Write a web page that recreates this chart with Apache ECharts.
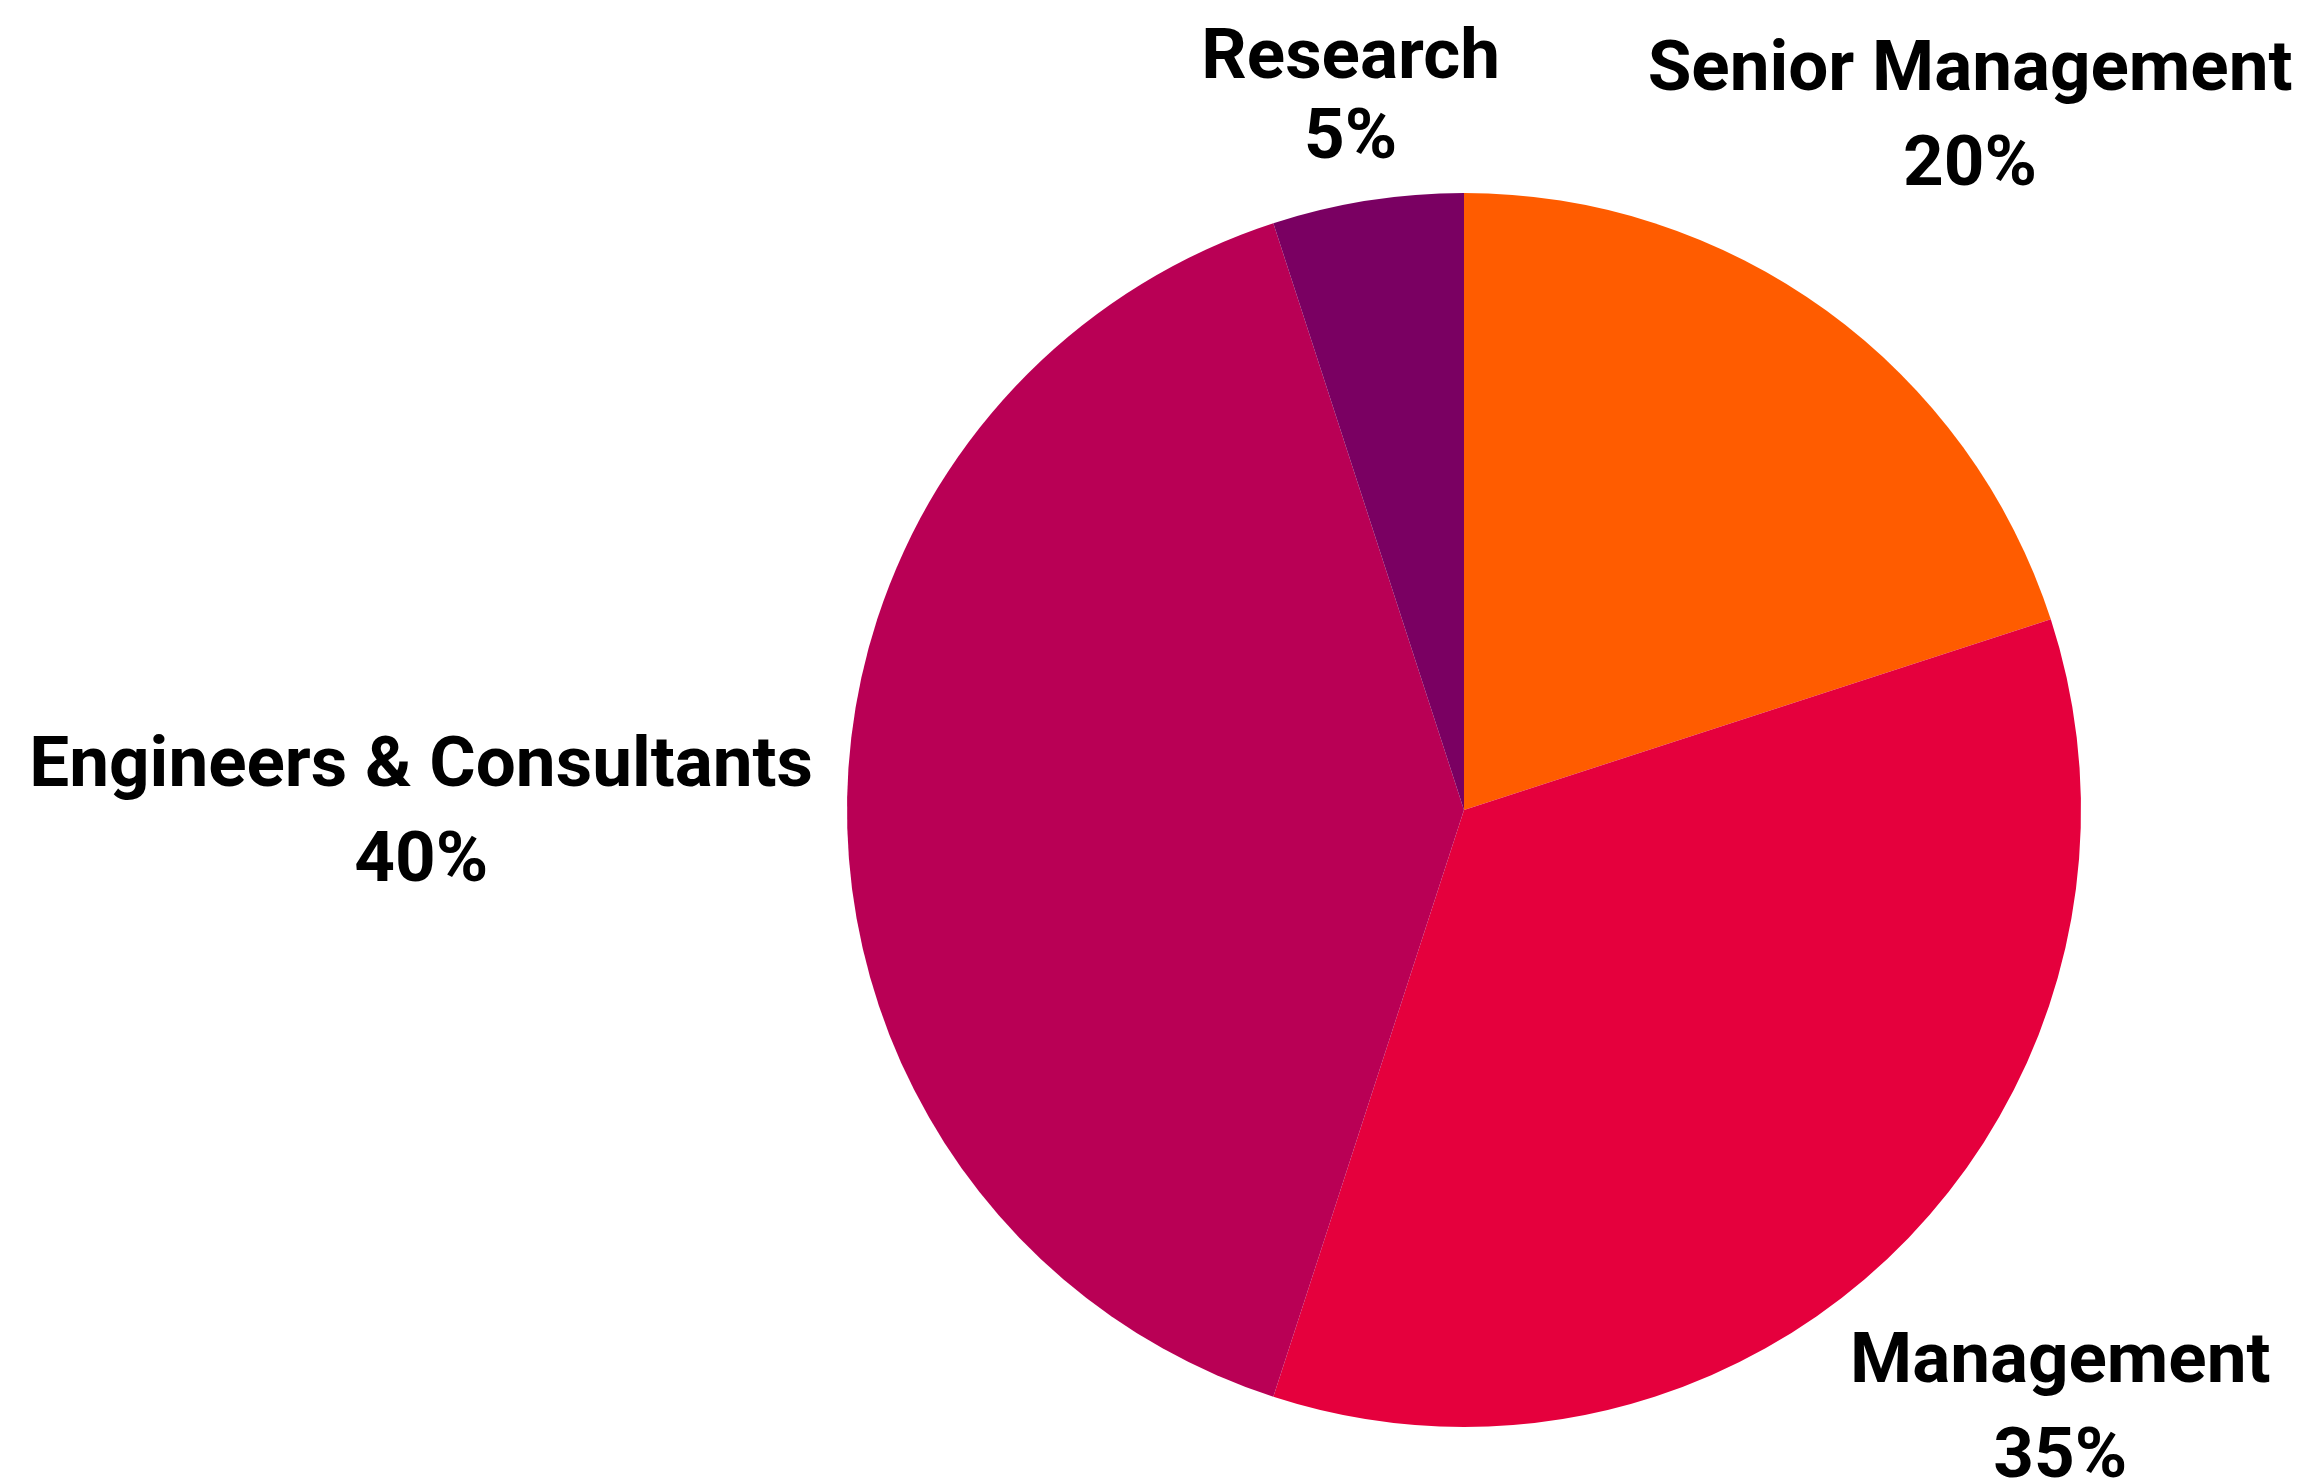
<!DOCTYPE html>
<html>
<head>
<meta charset="utf-8">
<script src="https://cdn.jsdelivr.net/npm/echarts@6/dist/echarts.min.js"></script>
<style>
  html, body { margin: 0; padding: 0; background: #fff; }
  #chart { width: 2310px; height: 1483px; }
</style>
</head>
<body>
<div id="chart"></div>
<script>
// staff split, clockwise from 12 o'clock
const categories = ['Senior Management', 'Management', 'Engineers & Consultants', 'Research'];
const shares = [20, 35, 40, 5];
const colors = ['#FF5C00', '#E5003D', '#B90055', '#7A0062'];
const lineGaps = [95, 95, 95, 80];

// pie geometry (px)
const CX = 1464, CY = 810, R = 617;
const GAP = 34;     // space between rim and the nearest edge of a label
const CAP = 49;     // cap height of the label font
const NUDGE_Y = 6;  // roboto caps sit a bit above the line-box middle

function midAngle(i) {
  const total = shares.reduce((a, b) => a + b, 0);
  let before = 0;
  for (let k = 0; k < i; k++) before += shares[k];
  const frac = (before + shares[i] / 2) / total;
  return Math.PI / 2 - frac * 2 * Math.PI;
}

// push each label out along its slice's mid angle until its nearest
// edge sits GAP px outside the rim
function placeLabel(params) {
  const a = midAngle(params.dataIndex);
  const ux = Math.cos(a), uy = -Math.sin(a);
  const hw = params.labelRect.width / 2;
  const hh = params.labelRect.height / 4 + CAP / 2;
  const target = R + GAP;
  let lo = 0, hi = 3000;
  for (let n = 0; n < 60; n++) {
    const t = (lo + hi) / 2;
    const ex = Math.max(0, Math.abs(t * ux) - hw);
    const ey = Math.max(0, Math.abs(t * uy) - hh);
    if (Math.hypot(ex, ey) < target) lo = t; else hi = t;
  }
  return {
    x: CX + lo * ux,
    y: CY + lo * uy + NUDGE_Y,
    align: 'center',
    verticalAlign: 'middle'
  };
}

const chart = echarts.init(document.getElementById('chart'));
chart.setOption({
  animation: false,
  backgroundColor: '#ffffff',
  series: [{
    type: 'pie',
    center: [CX, CY],
    radius: [0, R],
    startAngle: 90,
    clockwise: true,
    data: categories.map((name, i) => ({
      name: name,
      value: shares[i],
      itemStyle: { color: colors[i] },
      label: { lineHeight: lineGaps[i] }
    })),
    itemStyle: { borderWidth: 0 },
    label: {
      show: true,
      position: 'outside',
      formatter: '{b}\n{c}%',
      fontFamily: 'Roboto',
      fontWeight: 'bold',
      fontSize: 71,
      color: '#000',
      align: 'center',
      overflow: 'none'
    },
    labelLine: { show: false },
    labelLayout: placeLabel,
    emphasis: { disabled: true }
  }]
});
</script>
</body>
</html>
